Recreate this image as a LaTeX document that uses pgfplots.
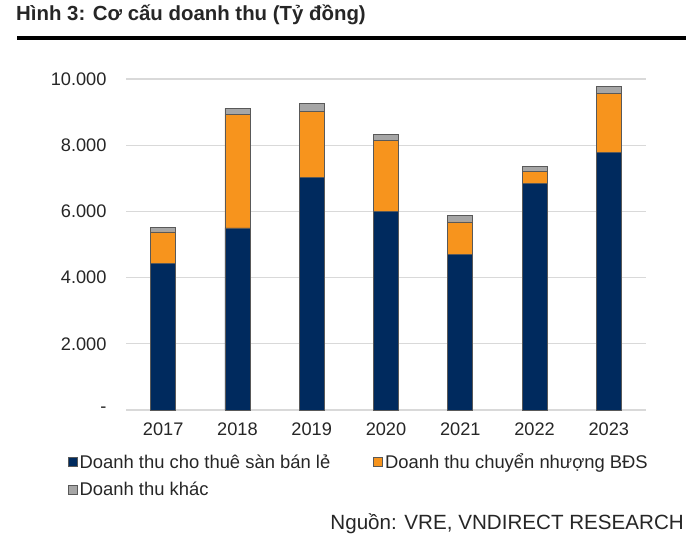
\documentclass[border=0pt]{standalone}
\usepackage{pgfplots}
\pgfplotsset{compat=1.18}
\usepackage{fontspec}
\setmainfont{Liberation Sans}
\definecolor{navybar}{HTML}{002A5E}
\definecolor{orangebar}{HTML}{F7941D}
\definecolor{greybar}{HTML}{A6A6A6}
\definecolor{barline}{HTML}{595959}
\definecolor{gridgrey}{HTML}{D9D9D9}
\definecolor{txt}{HTML}{262626}

\begin{document}
\begin{tikzpicture}
  \path[use as bounding box] (0pt,0pt) rectangle (696pt,536pt);
  % title and rule
  \node[anchor=west,font=\fontsize{20.4}{24}\selectfont\bfseries,text=txt,inner sep=0pt] at (16pt,521pt) {Hình 3: Cơ cấu doanh thu (Tỷ đồng)};
  \draw[black,line width=4pt] (17pt,498pt) -- (686pt,498pt);

  \begin{axis}[
      at={(126pt,126pt)}, anchor=south west,
      scale only axis, width=520pt, height=331pt,
      xmin=-0.5, xmax=6.5, ymin=0, ymax=10000,
      ybar stacked, bar width=25pt,
      axis line style={draw=none},
      ymajorgrids, grid style={gridgrey, line width=1.2pt},
      xtick={0,...,6}, xticklabels={2017,2018,2019,2020,2021,2022,2023},
      ytick={0,2000,4000,6000,8000,10000},
      yticklabels={-,2.000,4.000,6.000,8.000,10.000},
      scaled y ticks=false,
      tick style={draw=none},
      ticklabel style={font=\fontsize{18.2}{22}\selectfont, text=txt},
      xticklabel style={yshift=-9pt},
      yticklabel style={xshift=-16pt},
      legend columns=2,
      legend style={at={(-0.118,-0.12)}, anchor=north west, draw=none, fill=none,
        font=\fontsize{18.4}{22}\selectfont, text=txt,
        /tikz/every even column/.append style={column sep=41pt},
        row sep=8pt},
      legend image code/.code={\draw[#1] (0pt,-4.5pt) rectangle (9pt,4.5pt);},
      legend cell align=left,
    ]
    \addplot[fill=navybar, draw=barline, line width=0.8pt] coordinates
      {(0,4440) (1,5500) (2,7020) (3,6000) (4,4690) (5,6850) (6,7770)};
    \addplot[fill=orangebar, draw=barline, line width=0.8pt] coordinates
      {(0,940) (1,3430) (2,1990) (3,2140) (4,990) (5,360) (6,1800)};
    \addplot[fill=greybar, draw=barline, line width=0.8pt] coordinates
      {(0,130) (1,180) (2,240) (3,180) (4,190) (5,140) (6,210)};
    \legend{Doanh thu cho thuê sàn bán lẻ, Doanh thu chuyển nhượng BĐS, Doanh thu khác}
  \end{axis}

  \node[anchor=base east,font=\fontsize{20.6}{24}\selectfont,text=txt,inner sep=0pt] at (684pt,7pt) {Nguồn: VRE, VNDIRECT RESEARCH};
\end{tikzpicture}
\end{document}
